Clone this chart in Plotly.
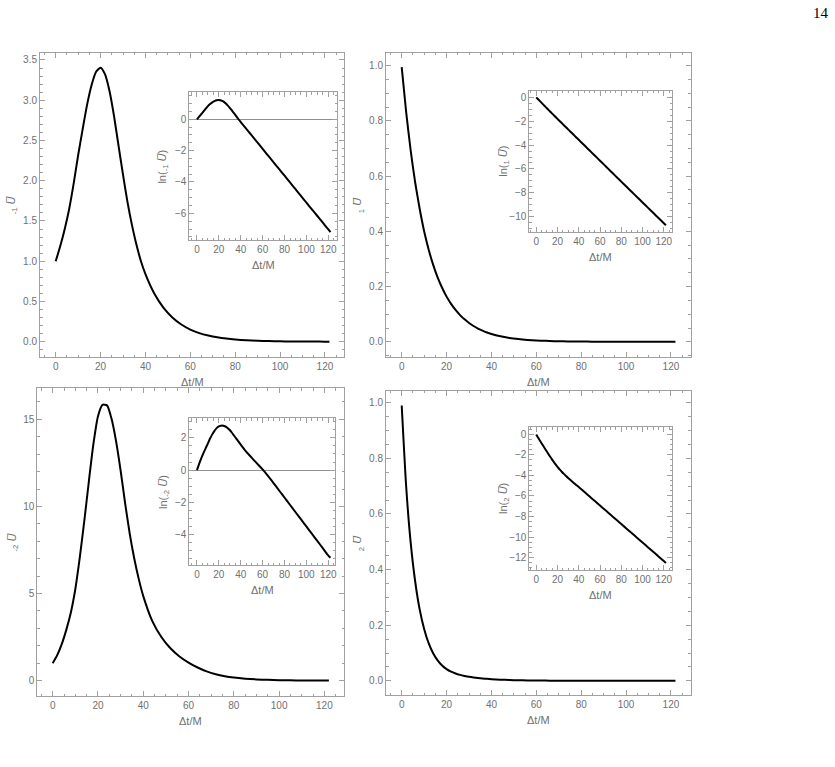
import numpy as np
import plotly.graph_objects as go

# time grid (Delta t / M)
T = [0, 2, 4, 6, 8, 10, 12, 14, 16, 18, 20, 22, 24, 26, 28, 30, 32, 34, 36, 38,
     40, 44, 48, 52, 56, 60, 64, 68, 72, 76, 80, 85, 90, 95, 100, 105, 110, 115, 120, 122]

LN_UM1 = [0.0, 0.17, 0.335, 0.50, 0.675, 0.84, 0.97, 1.08, 1.16, 1.21, 1.225, 1.20, 1.135, 1.03,
          0.89, 0.73, 0.55, 0.37, 0.185, 0.0, -0.175, -0.52, -0.86, -1.20, -1.545, -1.89, -2.235,
          -2.575, -2.92, -3.26, -3.60, -4.03, -4.46, -4.89, -5.32, -5.75, -6.17, -6.60, -7.03, -7.2]
LN_U1 = [-0.005, -0.185, -0.367, -0.55, -0.73, -0.915, -1.095, -1.275, -1.455, -1.63, -1.81, -1.985,
         -2.16, -2.335, -2.51, -2.685, -2.86, -3.035, -3.21, -3.385, -3.56, -3.91, -4.26, -4.61,
         -4.96, -5.31, -5.66, -6.01, -6.36, -6.71, -7.06, -7.495, -7.93, -8.365, -8.80, -9.235,
         -9.67, -10.105, -10.54, -10.71]
LN_UM2 = [0.0, 0.38, 0.74, 1.07, 1.36, 1.66, 1.96, 2.22, 2.44, 2.61, 2.72, 2.762, 2.76, 2.71, 2.62,
          2.49, 2.32, 2.135, 1.95, 1.765, 1.58, 1.23, 0.92, 0.62, 0.33, 0.04, -0.28, -0.63, -0.99,
          -1.35, -1.71, -2.16, -2.61, -3.06, -3.51, -3.96, -4.41, -4.86, -5.31, -5.46]
LN_U2 = [-0.01, -0.36, -0.70, -1.03, -1.36, -1.68, -2.00, -2.31, -2.61, -2.90, -3.17, -3.42, -3.64,
         -3.85, -4.05, -4.25, -4.43, -4.61, -4.79, -4.96, -5.13, -5.49, -5.85, -6.21, -6.57, -6.93,
         -7.29, -7.65, -8.01, -8.37, -8.73, -9.18, -9.63, -10.08, -10.53, -10.98, -11.43, -11.88,
         -12.33, -12.51]

X_TITLE = "\u0394t/M"
MAIN_Y_TITLES = ["<sub>-1</sub> <i>U\u0305</i>", "<sub>1</sub> <i>U\u0305</i>",
                 "<sub>-2</sub> <i>U\u0305</i>", "<sub>2</sub> <i>U\u0305</i>"]
INSET_Y_TITLES = ["ln(<sub>-1</sub> <i>U\u0305</i>)", "ln(<sub>1</sub> <i>U\u0305</i>)",
                  "ln(<sub>-2</sub> <i>U\u0305</i>)", "ln(<sub>2</sub> <i>U\u0305</i>)"]

W, H = 835, 767
FRAME = "#a0a0a0"
TXT = "#707070"
FONT = "Liberation Sans"
TICK_SIZE = 10
TITLE_SIZE = 11


def dx(a, b):
    return [a / W, b / W]


def dy(a, b):
    return [1 - b / H, 1 - a / H]


panels = [
    dict(L=LN_UM1, main=(40, 344, 52.7, 357), mx=[-7, 128.5], my=[-0.19, 3.59], mdt=0.5, mmin=0.1, mfmt=".1f",
         ins=(189.3, 337.3, 92.3, 240.3), ix=[-7, 128.2], iy=[-7.72, 1.72], zl=True, ytx=11.5),
    dict(L=LN_U1, main=(386, 690.7, 52.7, 357), mx=[-7, 128.8], my=[-0.055, 1.047], mdt=0.2, mmin=0.05, mfmt=".1f",
         ins=(529.3, 672, 90.7, 232.3), ix=[-6.5, 127.7], iy=[-11.3, 0.55], zl=False, ytx=358.3),
    dict(L=LN_UM2, main=(37.3, 344.3, 388.3, 696), mx=[-6.8, 128.8], my=[-0.88, 16.78], mdt=5, mmin=1, mfmt="d",
         ins=(189.3, 335, 418.3, 565), ix=[-7, 126.2], iy=[-5.91, 3.22], zl=True, ytx=13.3),
    dict(L=LN_U2, main=(386, 690.7, 390.7, 695), mx=[-7, 128.8], my=[-0.051, 1.043], mdt=0.2, mmin=0.05, mfmt=".1f",
         ins=(529.3, 672, 427.3, 570), ix=[-6.5, 127.7], iy=[-13.2, 0.68], zl=False, ytx=358.3),
]

fig = go.Figure()
layout = {}
annotations = []


def axis_common(dom, rng, dt, mn, fmt, anchor, zeroline=False):
    d = dict(domain=dom, range=rng, dtick=dt, tick0=0, ticks="inside", ticklen=5, tickwidth=1,
             tickcolor=FRAME, showline=True, linecolor=FRAME, linewidth=1, mirror="ticks",
             showgrid=False, zeroline=zeroline, zerolinecolor="#8f8f8f", zerolinewidth=1,
             anchor=anchor, automargin=False,
             tickfont=dict(family=FONT, size=TICK_SIZE, color=TXT),
             minor=dict(dtick=mn, ticks="inside", ticklen=2.5, tickcolor=FRAME, showgrid=False))
    if fmt:
        d["tickformat"] = fmt
    return d


def note(text, x, y, angle=0):
    return dict(text=text, x=x / W, y=1 - y / H, xref="paper", yref="paper", xanchor="center",
                yanchor="middle", showarrow=False, textangle=angle,
                font=dict(family=FONT, size=TITLE_SIZE, color=TXT))


for i, p in enumerate(panels):
    m = 2 * i + 1
    n = 2 * i + 2
    U = np.exp(np.array(p["L"]))
    fig.add_trace(go.Scatter(x=T, y=U, mode="lines", xaxis=f"x{m}", yaxis=f"y{m}",
                             line=dict(color="black", width=2, shape="spline", smoothing=0.6),
                             showlegend=False, hoverinfo="skip"))
    fig.add_trace(go.Scatter(x=T, y=p["L"], mode="lines", xaxis=f"x{n}", yaxis=f"y{n}",
                             line=dict(color="black", width=2, shape="spline", smoothing=0.6),
                             showlegend=False, hoverinfo="skip"))
    x0, x1, y0, y1 = p["main"]
    layout[f"xaxis{m}"] = axis_common(dx(x0, x1), p["mx"], 20, 5, None, f"y{m}")
    layout[f"yaxis{m}"] = axis_common(dy(y0, y1), p["my"], p["mdt"], p["mmin"], p["mfmt"], f"x{m}")
    a0, a1, b0, b1 = p["ins"]
    layout[f"xaxis{n}"] = axis_common(dx(a0, a1), p["ix"], 20, 5, None, f"y{n}")
    layout[f"yaxis{n}"] = axis_common(dy(b0, b1), p["iy"], 2, 0.5, "d", f"x{n}", zeroline=p["zl"])

    # axis titles
    annotations.append(note(X_TITLE, (x0 + x1) / 2, y1 + 24.5))
    annotations.append(note(MAIN_Y_TITLES[i], p["ytx"], (y0 + y1) / 2, -90))
    annotations.append(note(X_TITLE, (a0 + a1) / 2, b1 + 24.5))
    annotations.append(note(INSET_Y_TITLES[i], a0 - 26, (b0 + b1) / 2, -90))

page = note("14", 821, 13)
page["font"] = dict(family="Liberation Serif", size=15, color="black")
annotations.append(page)

fig.update_layout(**layout)
fig.update_layout(width=W, height=H, margin=dict(l=0, r=0, t=0, b=0), paper_bgcolor="white",
                  plot_bgcolor="white", showlegend=False, annotations=annotations)

fig.write_html("out.html")
